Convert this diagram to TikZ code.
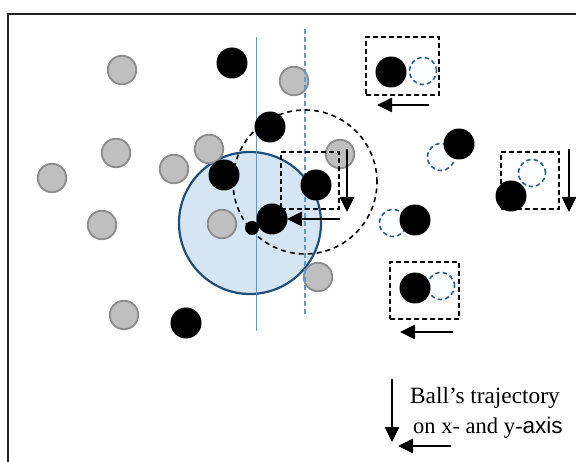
\documentclass[tikz,border=0pt]{standalone}
\usepackage{fontspec}
\setmainfont{Liberation Serif}
\newfontfamily\sansf{Liberation Sans}
\usetikzlibrary{arrows.meta}
\definecolor{ballgray}{HTML}{BFBFBF}
\definecolor{balledge}{HTML}{8C8C8C}
\definecolor{zonefill}{HTML}{D6E5F4}
\definecolor{zoneedge}{HTML}{1F4E79}
\definecolor{axisblue}{HTML}{5B9BD5}
\definecolor{ghostedge}{HTML}{2E5E8E}
\definecolor{ghostfill}{HTML}{FBFCFE}
\definecolor{framecol}{HTML}{222222}
\begin{document}
\begin{tikzpicture}[x=1pt,y=-1pt,
  grayball/.style={circle,fill=ballgray,draw=balledge,line width=1.8pt,minimum size=28.5pt,inner sep=0pt},
  blackball/.style={circle,fill=black,minimum size=31pt,inner sep=0pt},
  smallball/.style={circle,fill=black,minimum size=14pt,inner sep=0pt},
  ghost/.style={circle,draw=ghostedge,fill=ghostfill,line width=1.6pt,dash pattern=on 4.5pt off 3pt,minimum size=27pt,inner sep=0pt},
  zone/.style={circle,fill=zonefill,draw=zoneedge,line width=2.2pt,minimum size=142pt,inner sep=0pt},
  reach/.style={circle,draw=black,line width=1.6pt,dash pattern=on 5pt off 4pt,minimum size=144pt,inner sep=0pt},
  dashbox/.style={rectangle,draw=black,line width=2.4pt,dash pattern=on 5pt off 3pt,inner sep=0pt},
  axisline/.style={draw=axisblue,line width=1.4pt},
  axisdash/.style={draw=axisblue,line width=1.4pt,dash pattern=on 5pt off 3pt},
  traj/.style={draw=black,line width=2.6pt,-{Triangle[length=15pt,width=14pt]}},
  frame/.style={draw=framecol,line width=2.5pt},
  lab/.style={anchor=base west,inner sep=0pt,font=\fontsize{23.3}{28}\selectfont}
]
\useasboundingbox (0,0) rectangle (576,462);
\clip (0,0) rectangle (576,462);
\fill[white] (0,0) rectangle (576,462);
\draw[frame] (8,14) rectangle (600,490);

% player zone
\node[zone] (zone) at (250,223) {};

% gray balls
\node[grayball] (g1) at (122,70) {};
\node[grayball] (g2) at (294,81) {};
\node[grayball] (g3) at (116,153) {};
\node[grayball] (g4) at (209,149) {};
\node[grayball] (g5) at (174,169) {};
\node[grayball] (g6) at (52,178) {};
\node[grayball] (g7) at (340,154) {};
\node[grayball] (g8) at (102,225) {};
\node[grayball] (g9) at (222,224) {};
\node[grayball] (g10) at (318,277) {};
\node[grayball] (g11) at (124,315) {};

% axis lines
\coordinate (s1) at (256.5,37);
\coordinate (s2) at (256.5,331);
\coordinate (d1) at (305,29);
\coordinate (d2) at (305,317);
\draw[axisline] (s1) -- (s2);
\draw[axisdash] (d1) -- (d2);

% reach circle
\node[reach] (reachc) at (305,182) {};

% dashed boxes
\node[dashbox,minimum width=73pt,minimum height=58pt] (b1) at (402.5,66) {};
\node[dashbox,minimum width=58pt,minimum height=57pt] (b2) at (310,180.5) {};
\node[dashbox,minimum width=58pt,minimum height=57pt] (b3) at (530,180.5) {};
\node[dashbox,minimum width=69pt,minimum height=57pt] (b4) at (424.5,290.5) {};

% ghost positions
\node[ghost] (h1) at (423,71) {};
\node[ghost] (h2) at (441,157) {};
\node[ghost] (h3) at (393,223) {};
\node[ghost] (h4) at (532,173) {};
\node[ghost] (h5) at (441,286) {};

% black balls
\node[blackball] (k1) at (232,63) {};
\node[blackball] (k2) at (270,127) {};
\node[blackball] (k3) at (224,175) {};
\node[blackball] (k4) at (316,185) {};
\node[blackball] (k5) at (272,219) {};
\node[blackball] (k6) at (459,144) {};
\node[blackball] (k7) at (415,220) {};
\node[blackball] (k8) at (511,196) {};
\node[blackball] (k9) at (391,72) {};
\node[blackball] (k10) at (415,288) {};
\node[blackball] (k11) at (186,323) {};
\node[smallball] (ks) at (252,228) {};

% trajectory arrows
\coordinate (a1s) at (429,105); \coordinate (a1e) at (377,105);
\coordinate (a2s) at (340,219); \coordinate (a2e) at (287,219);
\coordinate (a3s) at (347,149); \coordinate (a3e) at (347,212);
\coordinate (a4s) at (569,149); \coordinate (a4e) at (569,212);
\coordinate (a5s) at (453,332); \coordinate (a5e) at (400,332);
\coordinate (a6s) at (392,379); \coordinate (a6e) at (392,442);
\coordinate (a7s) at (451,446); \coordinate (a7e) at (398,446);
\draw[traj] (a1s) -- (a1e);
\draw[traj] (a2s) -- (a2e);
\draw[traj] (a3s) -- (a3e);
\draw[traj] (a4s) -- (a4e);
\draw[traj] (a5s) -- (a5e);
\draw[traj] (a6s) -- (a6e);
\draw[traj] (a7s) -- (a7e);

% legend text
\node[lab] (lab1) at (410,404) {Ball’s trajectory};
\node[lab,font=\fontsize{22.5}{28}\selectfont] (lab2) at (413,433) {on x- and y-{\sansf axis}};
\end{tikzpicture}
\end{document}
